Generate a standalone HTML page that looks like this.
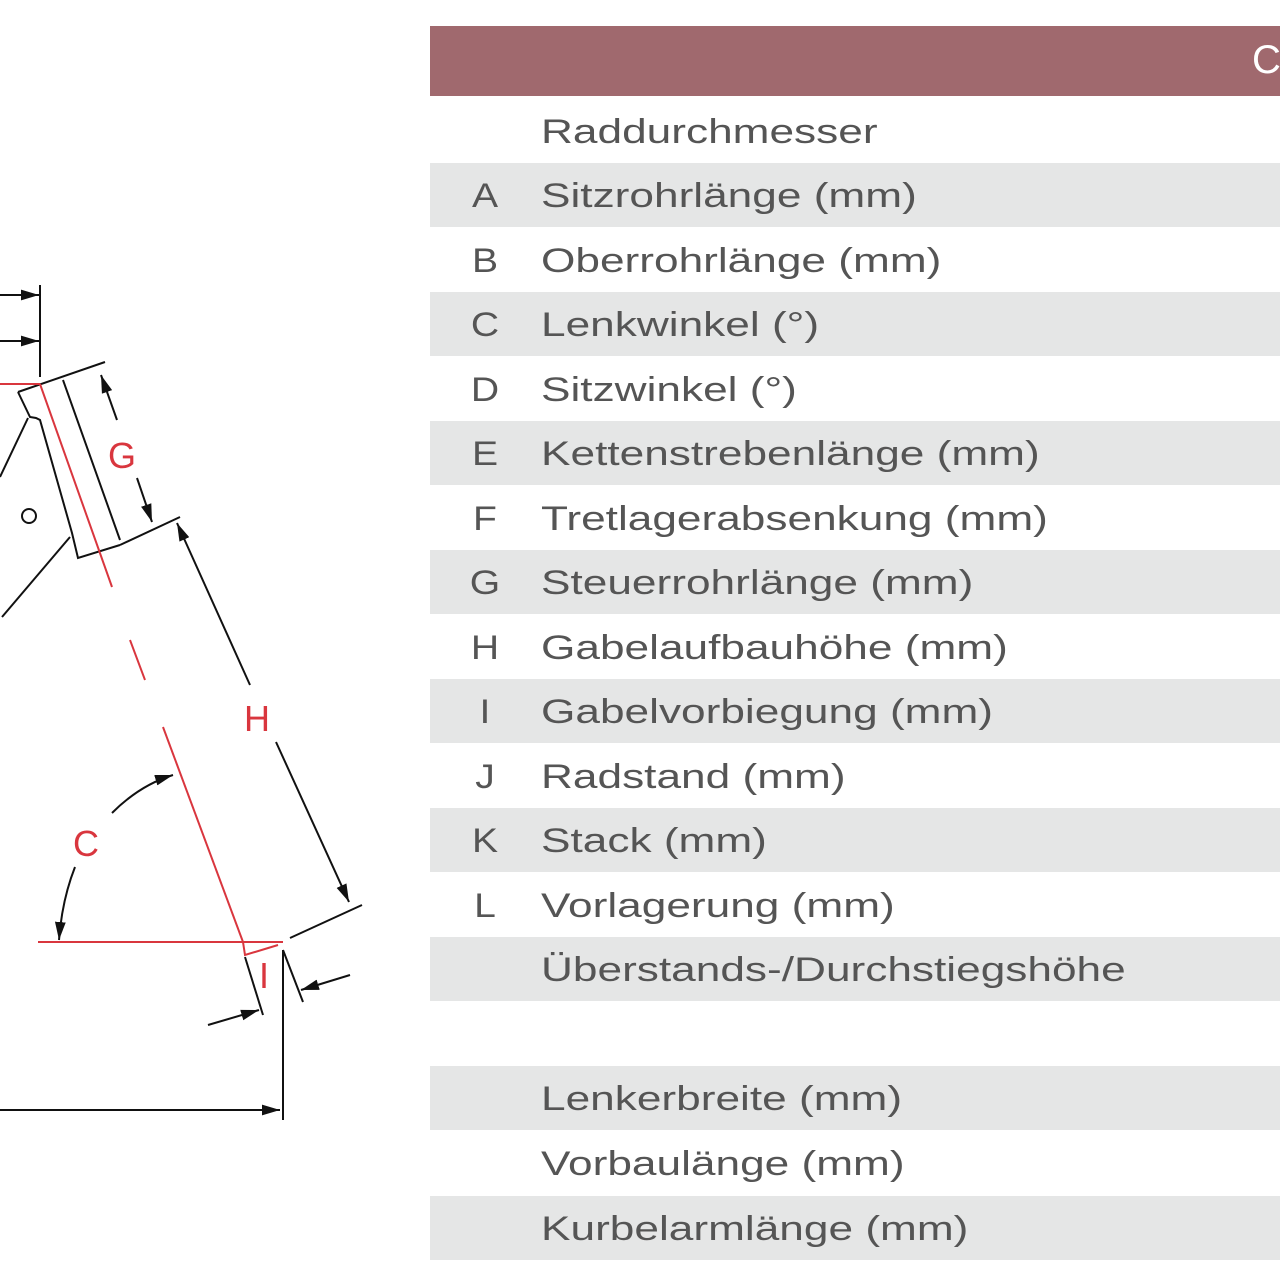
<!DOCTYPE html>
<html><head><meta charset="utf-8"><style>
html,body{margin:0;padding:0;background:#fff;width:1280px;height:1280px;overflow:hidden}
body{position:relative;font-family:"Liberation Sans",sans-serif}
.hdr{position:absolute;left:430px;top:26px;width:850px;height:70px;background:#a0696e}
.hdr span{position:absolute;left:822px;top:12px;color:#fff;font-size:40px}
.row{position:absolute;left:430px;width:850px;height:64px;color:#555;font-size:34px;line-height:66px}
.g{background:#e5e6e6}
.row .l{position:absolute;left:40px;width:30px;text-align:center;transform:scaleX(1.15)}
.row .t{position:absolute;left:111px;transform:scaleX(1.3);transform-origin:0 0;white-space:nowrap}
svg{position:absolute;left:0;top:0}
</style></head><body>
<div class="hdr"><span>C</span></div>
<div class="row" style="top:99px"><span class="t">Raddurchmesser</span></div>
<div class="row g" style="top:163px"><span class="l">A</span><span class="t">Sitzrohrlänge (mm)</span></div>
<div class="row" style="top:228px"><span class="l">B</span><span class="t">Oberrohrlänge (mm)</span></div>
<div class="row g" style="top:292px"><span class="l">C</span><span class="t">Lenkwinkel (°)</span></div>
<div class="row" style="top:357px"><span class="l">D</span><span class="t">Sitzwinkel (°)</span></div>
<div class="row g" style="top:421px"><span class="l">E</span><span class="t">Kettenstrebenlänge (mm)</span></div>
<div class="row" style="top:486px"><span class="l">F</span><span class="t">Tretlagerabsenkung (mm)</span></div>
<div class="row g" style="top:550px"><span class="l">G</span><span class="t">Steuerrohrlänge (mm)</span></div>
<div class="row" style="top:615px"><span class="l">H</span><span class="t">Gabelaufbauhöhe (mm)</span></div>
<div class="row g" style="top:679px"><span class="l">I</span><span class="t">Gabelvorbiegung (mm)</span></div>
<div class="row" style="top:744px"><span class="l">J</span><span class="t">Radstand (mm)</span></div>
<div class="row g" style="top:808px"><span class="l">K</span><span class="t">Stack (mm)</span></div>
<div class="row" style="top:873px"><span class="l">L</span><span class="t">Vorlagerung (mm)</span></div>
<div class="row g" style="top:937px"><span class="t">Überstands-/Durchstiegshöhe</span></div>
<div class="row g" style="top:1066px"><span class="t">Lenkerbreite (mm)</span></div>
<div class="row" style="top:1131px"><span class="t">Vorbaulänge (mm)</span></div>
<div class="row g" style="top:1196px"><span class="t">Kurbelarmlänge (mm)</span></div>
<svg width="420" height="1280" viewBox="0 0 420 1280">
<defs><marker id="a" viewBox="0 0 10 10" refX="10" refY="5" markerWidth="9" markerHeight="9" orient="auto"><path d="M0,2 L10,5 L0,8z" fill="#111"/></marker></defs>
<g stroke="#111" stroke-width="2" fill="none">
<line x1="0" y1="295" x2="39" y2="295" marker-end="url(#a)"/>
<line x1="0" y1="341" x2="39" y2="341" marker-end="url(#a)"/>
<line x1="40" y1="285" x2="40" y2="377"/>
<line x1="18" y1="392" x2="105" y2="362"/>
<polyline points="18,392 30,417 36,418 40,420 72,533 78,558 120,545"/>
<line x1="63" y1="380" x2="120" y2="540"/>
<line x1="120" y1="545" x2="180" y2="517"/>
<line x1="0" y1="477" x2="28" y2="418"/>
<line x1="2" y1="617" x2="70" y2="537"/>
<circle cx="29" cy="516" r="7"/>
<line x1="117" y1="420" x2="101" y2="375" marker-end="url(#a)"/>
<line x1="137" y1="478" x2="152" y2="522" marker-end="url(#a)"/>
<line x1="250" y1="685" x2="177" y2="523" marker-end="url(#a)"/>
<line x1="276" y1="742" x2="349" y2="902" marker-end="url(#a)"/>
<line x1="362" y1="905" x2="290" y2="938"/>
<path d="M112,813 Q140,785 173,775" marker-end="url(#a)"/>
<path d="M75,867 Q62,900 59,940" marker-end="url(#a)"/>
<line x1="245" y1="957" x2="263" y2="1015"/>
<line x1="283" y1="950" x2="303" y2="1002"/>
<line x1="283" y1="950" x2="283" y2="1120"/>
<line x1="208" y1="1025" x2="259" y2="1010" marker-end="url(#a)"/>
<line x1="350" y1="975" x2="301" y2="990" marker-end="url(#a)"/>
<line x1="0" y1="1110" x2="280" y2="1110" marker-end="url(#a)"/>
</g>
<g stroke="#d9363e" stroke-width="2" fill="none">
<line x1="0" y1="384" x2="40" y2="384"/>
<line x1="40" y1="384" x2="112" y2="587"/>
<line x1="130" y1="640" x2="145" y2="680"/>
<line x1="163" y1="727" x2="243" y2="942"/>
<line x1="38" y1="942" x2="283" y2="942"/>
<polyline points="243,942 245,955 278,945"/>
</g>
<g fill="#d9363e" font-size="36" font-family="Liberation Sans,sans-serif" text-anchor="middle">
<text x="122" y="468">G</text><text x="257" y="731">H</text><text x="86" y="856">C</text><text x="264" y="988">I</text>
</g>
</svg>
</body></html>
